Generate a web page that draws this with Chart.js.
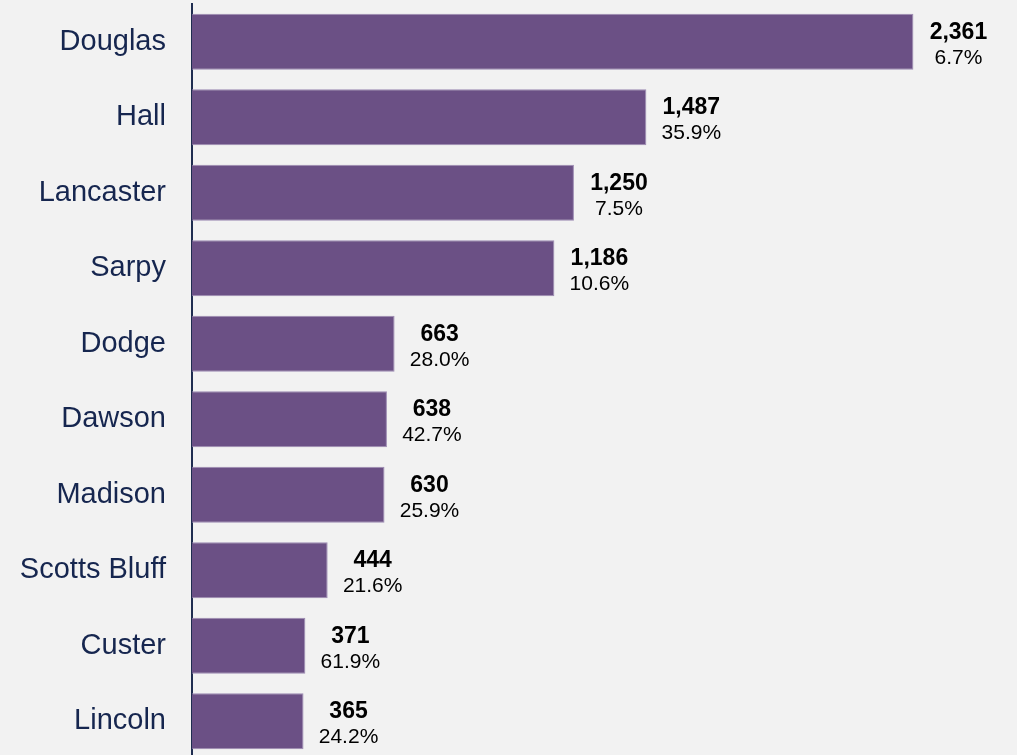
<!DOCTYPE html>
<html>
<head>
<meta charset="utf-8">
<script src="https://cdn.jsdelivr.net/npm/chart.js@4/dist/chart.umd.min.js"></script>
<style>
  html, body { margin: 0; padding: 0; background: #f2f2f2; overflow: hidden; }
  canvas { display: block; }
</style>
</head>
<body>
<canvas id="myChart" width="1017" height="760"></canvas>
<script>
/* global Chart */

// counties, counts and share of total
const counties = ["Douglas", "Hall", "Lancaster", "Sarpy", "Dodge", "Dawson", "Madison", "Scotts Bluff", "Custer", "Lincoln"];
const counts = [2361, 1487, 1250, 1186, 663, 638, 630, 444, 371, 365];
const shares = [6.7, 35.9, 7.5, 10.6, 28.0, 42.7, 25.9, 21.6, 61.9, 24.2];

const FONT = "Arial, 'Liberation Sans', sans-serif";

// two-line label to the right of each bar: bold count, then percent
const barLabels = {
  id: "barLabels",
  afterDatasetsDraw(chart) {
    const ctx = chart.ctx;
    const meta = chart.getDatasetMeta(0);
    ctx.save();
    ctx.textAlign = "center";
    ctx.textBaseline = "alphabetic";
    ctx.fillStyle = "#000000";
    meta.data.forEach(function (bar, i) {
      const cx = bar.x + 45;
      ctx.font = "bold 23px " + FONT;
      ctx.fillText(counts[i].toLocaleString("en-US"), cx, bar.y - 3);
      ctx.font = "21px " + FONT;
      ctx.fillText(shares[i].toFixed(1) + "%", cx, bar.y + 22);
    });
    ctx.restore();
  }
};

const ctx = document.getElementById("myChart").getContext("2d");
const myChart = new Chart(ctx, {
  type: "bar",
  data: {
    labels: counties,
    datasets: [
      {
        data: counts,
        backgroundColor: "#6b5085",
        borderColor: "#9d8bb3",
        borderWidth: 1,
        barPercentage: 0.74,
        categoryPercentage: 1.0,
      },
    ],
  },
  options: {
    indexAxis: "y",
    responsive: false,
    animation: false,
    layout: { padding: { top: 4, right: 0, bottom: 1, left: 0 } },
    plugins: {
      legend: { display: false },
      tooltip: { enabled: false },
    },
    scales: {
      x: {
        min: 0,
        max: 2700,
        display: false,
      },
      y: {
        grid: { display: false, drawTicks: false },
        border: { display: true, color: "#1f2d50", width: 2 },
        ticks: {
          color: "#16264f",
          padding: 26,
          font: { family: FONT, size: 29 },
        },
        afterFit(scale) {
          // fixed label column, no extra room above/below the first and last label
          scale.width = 192;
          scale.paddingTop = 0;
          scale.paddingBottom = 0;
        },
      },
    },
  },
  plugins: [barLabels],
});
</script>
</body>
</html>
